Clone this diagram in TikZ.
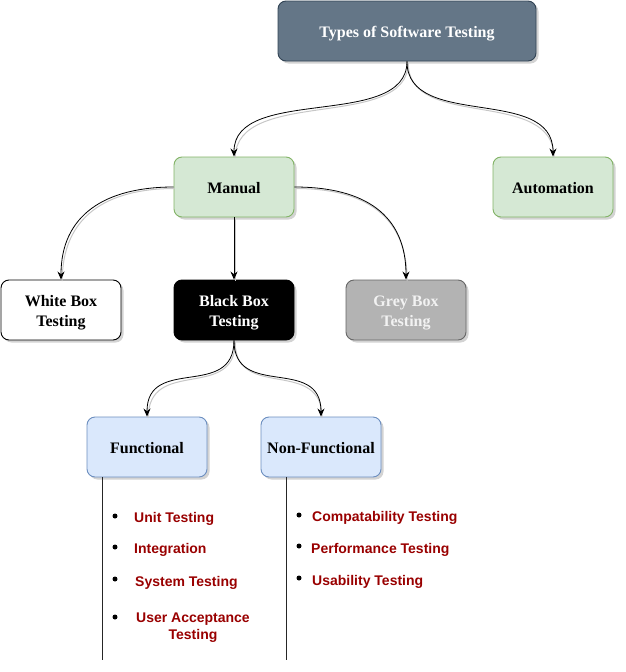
\documentclass[tikz,border=0pt]{standalone}
\usepackage{fontspec}
\setmainfont{Liberation Serif}
\newfontfamily\arialf{Liberation Sans}
\usetikzlibrary{arrows.meta,shadows}
\definecolor{topfill}{HTML}{647687}
\definecolor{topdraw}{HTML}{314354}
\definecolor{grfill}{HTML}{D5E8D4}
\definecolor{grdraw}{HTML}{82B366}
\definecolor{blfill}{HTML}{DAE8FC}
\definecolor{bldraw}{HTML}{6C8EBF}
\definecolor{gyfill}{HTML}{B3B3B3}
\definecolor{gydraw}{HTML}{666666}
\definecolor{itemred}{HTML}{990000}
\newcommand{\btxt}[1]{\raisebox{-2pt}[\height][\depth]{\begin{tabular}{@{}c@{}}#1\end{tabular}}}
\tikzset{
  box/.style={draw, rounded corners=8pt, line width=0.9pt, minimum width=120pt, minimum height=60pt,
    inner sep=0pt, font=\fontsize{16}{20}\selectfont\bfseries,
    drop shadow={opacity=0.35, shadow xshift=2.5pt, shadow yshift=-2.5pt}},
  conn/.style={line width=0.8pt, -{Stealth[length=8pt,width=7pt]},
    preaction={draw=black!22, line width=1pt, -, transform canvas={shift={(1.2pt,-1.5pt)}}}},
  vline/.style={line width=1pt, draw=black!85},
  dot/.style={circle, fill=black, inner sep=0pt, minimum size=5pt},
  item/.style={anchor=west, inner sep=0pt, text=itemred, font=\arialf\fontsize{14}{17}\selectfont\bfseries}
}
\begin{document}
\begin{tikzpicture}[x=1pt,y=-1pt]
\useasboundingbox (0,0) rectangle (626,672);
\node[box, fill=topfill, draw=topdraw, text=white, minimum width=258pt] (top) at (407,31) {\btxt{Types of Software Testing}};
\node[box, fill=grfill, draw=grdraw] (manual) at (234,187) {\btxt{Manual}};
\node[box, fill=grfill, draw=grdraw] (auto) at (553,187) {\btxt{Automation}};
\node[box, fill=white, draw=black] (white) at (61,310) {\btxt{White Box\\Testing}};
\node[box, fill=black, draw=black, text=white] (black) at (234,310) {\btxt{Black Box\\Testing}};
\node[box, fill=gyfill, draw=gydraw, text=white!95!black] (grey) at (406,310) {\btxt{Grey Box\\Testing}};
\node[box, fill=blfill, draw=bldraw] (func) at (147,447) {\btxt{Functional}};
\node[box, fill=blfill, draw=bldraw] (nonf) at (321,447) {\btxt{Non-Functional}};

\draw[conn] (top.south) .. controls (407,130) and (234,85) .. (manual.north);
\draw[conn] (top.south) .. controls (407,130) and (553,85) .. (auto.north);
\draw[conn] (manual.west) .. controls (105,187) and (61,215) .. (white.north);
\draw[conn] (manual.east) .. controls (365,187) and (406,215) .. (grey.north);
\draw[conn] (manual.south) -- (black.north);
\draw[conn] (black.south) .. controls (234,400) and (147,355) .. (func.north);
\draw[conn] (black.south) .. controls (234,400) and (321,355) .. (nonf.north);

\coordinate (fend) at (102,660);
\coordinate (nend) at (286,660);
\draw[vline] (func.south -| fend) -- (fend);
\draw[vline] (nonf.south -| nend) -- (nend);

\node[dot] (d1) at (115,516) {};
\node[dot] (d2) at (115,547) {};
\node[dot] (d3) at (115,579) {};
\node[dot] (d4) at (115,617) {};
\node[item] (t1) at (134,518.5) {Unit Testing};
\node[item] (t2) at (134,549.5) {Integration};
\node[item] (t3) at (135,582.5) {System Testing};
\node[item, anchor=center, align=center] (t4) at (193,628) {User Acceptance\\Testing};

\node[dot] (e1) at (299,515) {};
\node[dot] (e2) at (299,546) {};
\node[dot] (e3) at (299,578) {};
\node[item] (u1) at (312,517.5) {Compatability Testing};
\node[item] (u2) at (311,549.5) {Performance Testing};
\node[item] (u3) at (312,581.5) {Usability Testing};
\end{tikzpicture}
\end{document}
